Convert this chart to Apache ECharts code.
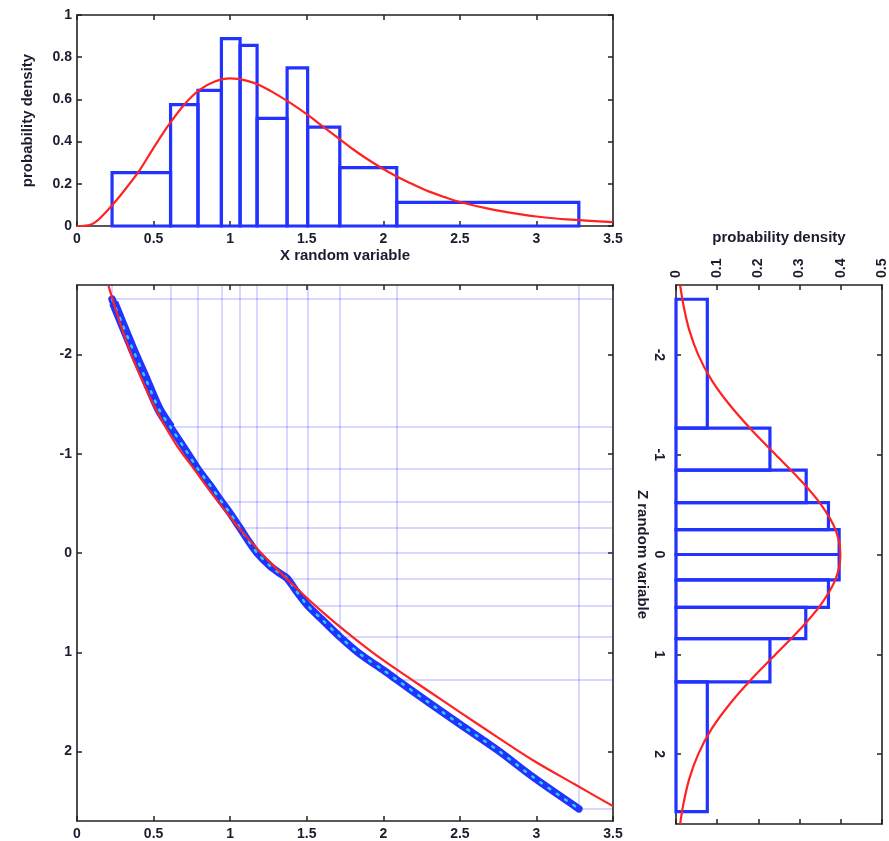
<!DOCTYPE html>
<html>
<head>
<meta charset="utf-8">
<script src="https://cdn.jsdelivr.net/npm/echarts@6/dist/echarts.min.js"></script>
<style>
html,body{margin:0;padding:0;background:#fff;}
#chart{width:889px;height:841px;}
</style>
</head>
<body>
<div id="chart"></div>
<script>
// ---- data ----
// X histogram bin edges and densities (top panel)
const xEdges = [0.229, 0.611, 0.79, 0.943, 1.065, 1.176, 1.372, 1.506, 1.716, 2.088, 3.277];
const xDens  = [0.253, 0.575, 0.643, 0.888, 0.856, 0.51, 0.749, 0.469, 0.277, 0.112];
// X density curve (red, top panel)
const xCurveX = [0, 0.1, 0.2, 0.3, 0.4, 0.5, 0.6, 0.7, 0.8, 0.9, 1.0, 1.1, 1.2, 1.3, 1.4, 1.5, 1.6, 1.7, 1.8, 1.9, 2.0, 2.1, 2.2, 2.3, 2.4, 2.5, 2.7, 2.9, 3.0, 3.2, 3.5];
const xCurveY = [0, 0.01, 0.075, 0.16, 0.255, 0.37, 0.48, 0.575, 0.645, 0.685, 0.70, 0.69, 0.665, 0.625, 0.58, 0.53, 0.475, 0.42, 0.365, 0.315, 0.27, 0.23, 0.195, 0.163, 0.137, 0.114, 0.08, 0.055, 0.045, 0.031, 0.018];
// Z histogram bin edges and densities (right panel)
const zEdges = [-2.557, -1.267, -0.845, -0.52, -0.25, 0, 0.255, 0.53, 0.843, 1.277, 2.577];
const zDens  = [0.076, 0.228, 0.316, 0.37, 0.396, 0.396, 0.37, 0.315, 0.228, 0.076];
// Z density curve (red, right panel)
const zCurveZ = [-2.7, -2.5, -2.25, -2.0, -1.75, -1.5, -1.25, -1.0, -0.75, -0.5, -0.25, 0, 0.25, 0.5, 0.75, 1.0, 1.25, 1.5, 1.75, 2.0, 2.25, 2.5, 2.7];
const zCurveD = [0.010, 0.018, 0.032, 0.054, 0.086, 0.13, 0.183, 0.242, 0.301, 0.352, 0.387, 0.399, 0.387, 0.352, 0.301, 0.242, 0.183, 0.13, 0.086, 0.054, 0.032, 0.018, 0.010];
// empirical X -> Z mapping (blue band, main panel)
const bandX = [0.229, 0.29, 0.365, 0.45, 0.535, 0.611, 0.70, 0.79, 0.87, 0.943, 1.00, 1.065, 1.12, 1.176, 1.26, 1.32, 1.372, 1.43, 1.506, 1.60, 1.716, 1.85, 2.001, 2.088, 2.30, 2.502, 2.75, 2.98, 3.277];
const bandZ = [-2.557, -2.33, -2.05, -1.75, -1.45, -1.267, -1.06, -0.845, -0.68, -0.52, -0.40, -0.25, -0.12, 0, 0.13, 0.2, 0.255, 0.38, 0.53, 0.67, 0.843, 1.02, 1.18, 1.277, 1.51, 1.727, 1.99, 2.26, 2.577];
// wider scatter in the lower tail of the sample
const tailX = [0.24, 0.29, 0.365, 0.45, 0.535, 0.611];
const tailZ = [-2.52, -2.33, -2.05, -1.75, -1.45, -1.267];
// theoretical X -> Z mapping (red, main panel)
const theoX = [0.206, 0.27, 0.337, 0.42, 0.511, 0.64, 0.772, 0.90, 1.022, 1.10, 1.19, 1.30, 1.458, 1.60, 1.762, 1.92, 2.089, 2.30, 2.502, 2.75, 2.98, 3.25, 3.5];
const theoZ = [-2.69, -2.37, -2.07, -1.76, -1.46, -1.11, -0.83, -0.56, -0.32, -0.175, -0.02, 0.155, 0.39, 0.59, 0.80, 0.99, 1.175, 1.395, 1.605, 1.86, 2.09, 2.33, 2.55];
// tick labels
const xTicks = [0, 0.5, 1, 1.5, 2, 2.5, 3, 3.5];
const zTicks = [-2, -1, 0, 1, 2];
const pdfTopTicks = [0, 0.2, 0.4, 0.6, 0.8, 1];
const pdfRightTicks = [0, 0.1, 0.2, 0.3, 0.4, 0.5];

// ---- styling ----
const BLUE = '#2233ff';
const RED = '#ff2222';
const TXT = '#1c1c30';
const FONT = 'Liberation Sans, Arial, Helvetica, sans-serif';
const X_MIN = 0, X_MAX = 3.5, Z_MIN = -2.7, Z_MAX = 2.7;

const lab = (extra) => Object.assign({color: TXT, fontFamily: FONT, fontWeight: 'bold', fontSize: 14}, extra || {});
const nameStyle = {color: TXT, fontFamily: FONT, fontWeight: 'bold', fontSize: 15};
const axLine = {show: true, onZero: false, lineStyle: {color: '#222', width: 1.6}};
const tick = {show: true, inside: true, length: 5, lineStyle: {color: '#222', width: 1.5}};

function mirror(base) {
  return Object.assign({}, base, {
    name: '', axisLabel: {show: false}, axisTick: Object.assign({}, tick, base.axisTick || {}),
    axisLine: axLine, splitLine: {show: false}
  });
}

// ---- build series data ----
const xBins = xDens.map((d, i) => [xEdges[i], xEdges[i + 1], d]);
const zBins = zDens.map((d, i) => [zEdges[i], zEdges[i + 1], d]);
const xCurve = xCurveX.map((x, i) => [x, xCurveY[i]]);
const zCurve = zCurveZ.map((z, i) => [zCurveD[i], z]);
const band = bandX.map((x, i) => [x, bandZ[i]]);
const tail = tailX.map((x, i) => [x, tailZ[i]]);
const theo = theoX.map((x, i) => [x, theoZ[i]]);
const guides = [];
xEdges.forEach((x, i) => {
  guides.push({coords: [[x, Z_MIN], [x, zEdges[i]]]});
  guides.push({coords: [[x, zEdges[i]], [X_MAX, zEdges[i]]]});
});

const xTop = {gridIndex: 0, type: 'value', min: X_MIN, max: X_MAX, interval: 0.5, position: 'bottom',
  axisLine: axLine, axisTick: tick, splitLine: {show: false},
  axisLabel: lab({margin: 6}),
  name: 'X random variable', nameLocation: 'middle', nameGap: 22, nameTextStyle: nameStyle};
const xMain = {gridIndex: 1, type: 'value', min: X_MIN, max: X_MAX, interval: 0.5, position: 'bottom',
  axisLine: axLine, axisTick: tick, splitLine: {show: false},
  axisLabel: lab({margin: 6})};
const xRight = {gridIndex: 2, type: 'value', min: 0, max: 0.5, interval: 0.1, position: 'top',
  axisLine: axLine, axisTick: tick, splitLine: {show: false},
  axisLabel: lab({rotate: -90, margin: 7}),
  name: 'probability density', nameLocation: 'middle', nameGap: 40, nameTextStyle: nameStyle};

const yTop = {gridIndex: 0, type: 'value', min: 0, max: 1, interval: 0.2, position: 'left',
  axisLine: axLine, axisTick: tick, splitLine: {show: false},
  axisLabel: lab({margin: 5}),
  name: 'probability density', nameLocation: 'middle', nameGap: 42, nameRotate: 90, nameTextStyle: nameStyle};
const yMain = {gridIndex: 1, type: 'value', min: Z_MIN, max: Z_MAX, inverse: true, position: 'left',
  axisLine: axLine, axisTick: Object.assign({}, tick, {customValues: zTicks}), splitLine: {show: false},
  axisLabel: lab({margin: 5, customValues: zTicks})};
const yRight = {gridIndex: 2, type: 'value', min: Z_MIN, max: Z_MAX, inverse: true, position: 'left',
  axisLine: axLine, axisTick: Object.assign({}, tick, {customValues: zTicks}), splitLine: {show: false},
  axisLabel: lab({rotate: -90, margin: 10, customValues: zTicks}),
  name: 'Z random variable', nameLocation: 'middle', nameGap: 26, nameRotate: -90, nameTextStyle: nameStyle};

const option = {
  animation: false,
  backgroundColor: '#fff',
  grid: [
    {left: 77, top: 15, width: 536, height: 211, show: false},
    {left: 77, top: 285, width: 536, height: 539, show: false},
    {left: 676, top: 285, width: 209, height: 539, show: false}
  ],
  xAxis: [
    xTop, mirror(Object.assign({}, xTop, {position: 'top'})),
    xMain, mirror(Object.assign({}, xMain, {position: 'top'})),
    xRight, mirror(Object.assign({}, xRight, {position: 'bottom'}))
  ],
  yAxis: [
    yTop, mirror(Object.assign({}, yTop, {position: 'right'})),
    yMain, mirror(Object.assign({}, yMain, {position: 'right'})),
    yRight, mirror(Object.assign({}, yRight, {position: 'right'}))
  ],
  series: [
    {
      type: 'custom', xAxisIndex: 0, yAxisIndex: 0, data: xBins, encode: {x: [0, 1], y: 2}, z: 3,
      renderItem: function (params, api) {
        const a = api.coord([api.value(0), api.value(2)]);
        const b = api.coord([api.value(1), 0]);
        return {type: 'rect', shape: {x: a[0], y: a[1], width: b[0] - a[0], height: b[1] - a[1]},
          style: {fill: 'none', stroke: BLUE, lineWidth: 3.2}};
      }
    },
    {type: 'line', xAxisIndex: 0, yAxisIndex: 0, data: xCurve, smooth: 0.35, symbol: 'none', z: 4,
      lineStyle: {color: RED, width: 2.2}},
    {type: 'lines', coordinateSystem: 'cartesian2d', xAxisIndex: 2, yAxisIndex: 2, data: guides, z: 1,
      lineStyle: {color: 'rgba(60,60,255,0.55)', width: 1.5}},
    {type: 'line', xAxisIndex: 2, yAxisIndex: 2, data: tail, symbol: 'none', z: 3, smooth: 0.3,
      lineStyle: {color: BLUE, width: 9.5, cap: 'butt', join: 'round'}},
    {type: 'line', xAxisIndex: 2, yAxisIndex: 2, data: band, symbol: 'none', z: 3, smooth: 0.3,
      lineStyle: {color: BLUE, width: 7.5, cap: 'round', join: 'round'}},
    {type: 'line', xAxisIndex: 2, yAxisIndex: 2, data: band, symbol: 'none', z: 4, smooth: 0.3,
      lineStyle: {color: '#22d4ff', width: 2.5, type: [2, 8], cap: 'round'}},
    {type: 'line', xAxisIndex: 2, yAxisIndex: 2, data: theo, smooth: 0.35, symbol: 'none', z: 5,
      lineStyle: {color: RED, width: 2.2}},
    {
      type: 'custom', xAxisIndex: 4, yAxisIndex: 4, data: zBins, encode: {x: 2, y: [0, 1]}, z: 3,
      renderItem: function (params, api) {
        const a = api.coord([0, api.value(0)]);
        const b = api.coord([api.value(2), api.value(1)]);
        return {type: 'rect', shape: {x: a[0], y: a[1], width: b[0] - a[0], height: b[1] - a[1]},
          style: {fill: 'none', stroke: BLUE, lineWidth: 3.2}};
      }
    },
    {type: 'line', xAxisIndex: 4, yAxisIndex: 4, data: zCurve, smooth: 0.35, symbol: 'none', z: 4,
      lineStyle: {color: RED, width: 2.2}}
  ]
};

const chart = echarts.init(document.getElementById('chart'), null, {renderer: 'canvas'});
chart.setOption(option);
</script>
</body>
</html>
